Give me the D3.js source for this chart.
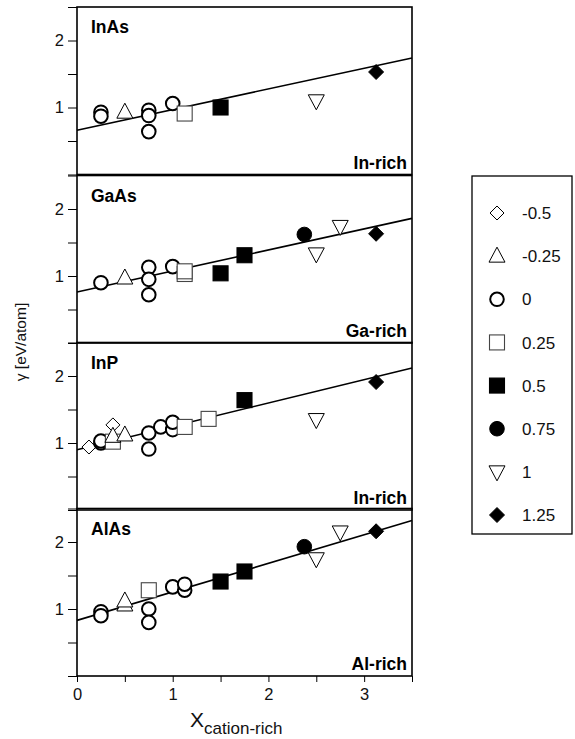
<!DOCTYPE html>
<html>
<head>
<meta charset="utf-8">
<script src="https://cdn.jsdelivr.net/npm/d3@7/dist/d3.min.js"></script>
<style>
  body { margin: 0; background: #fff; }
  svg { font-family: "Liberation Sans", Arial, Helvetica, sans-serif; }
</style>
</head>
<body>
<div id="chart"></div>
<script>
// legend keys (order as in legend) and their labels
var keys = ["-0.5", "-0.25", "0", "0.25", "0.5", "0.75", "1", "1.25"];

// panels, top to bottom
var panelNames = ["InAs", "GaAs", "InP", "AlAs"];
var richLabels = ["In-rich", "Ga-rich", "In-rich", "Al-rich"];

// fitted lines: value at x=0 and x=3.5
var fitLines = [[0.66, 1.74], [0.76, 1.86], [0.90, 2.12], [0.83, 2.32]];

// points: [x, gamma, key]
var inAs = [
  [0.25, 0.93, "0"], [0.25, 0.87, "0"], [0.5, 0.93, "-0.25"],
  [0.75, 0.96, "0"], [0.75, 0.88, "0"], [0.75, 0.64, "0"],
  [1.0, 1.06, "0"], [1.125, 0.91, "0.25"], [1.5, 1.0, "0.5"],
  [2.5, 1.1, "1"], [3.125, 1.53, "1.25"]
];
var gaAs = [
  [0.25, 0.9, "0"], [0.5, 0.97, "-0.25"],
  [0.75, 1.13, "0"], [0.75, 0.95, "0"], [0.75, 0.72, "0"],
  [1.0, 1.14, "0"], [1.125, 1.03, "0.25"], [1.125, 1.07, "0.25"],
  [1.5, 1.04, "0.5"], [1.75, 1.31, "0.5"], [2.375, 1.62, "0.75"],
  [2.5, 1.33, "1"], [2.75, 1.74, "1"], [3.125, 1.63, "1.25"]
];
var inP = [
  [0.125, 0.94, "-0.5"], [0.375, 1.27, "-0.5"],
  [0.25, 1.0, "0"], [0.25, 1.03, "0"], [0.375, 1.02, "0.25"],
  [0.375, 1.1, "-0.25"], [0.5, 1.12, "-0.25"],
  [0.75, 1.15, "0"], [0.75, 0.91, "0"], [0.875, 1.24, "0"],
  [1.0, 1.2, "0"], [1.0, 1.31, "0"], [1.125, 1.24, "0.25"],
  [1.375, 1.36, "0.25"], [1.75, 1.64, "0.5"], [2.5, 1.35, "1"],
  [3.125, 1.91, "1.25"]
];
var alAs = [
  [0.25, 0.96, "0"], [0.25, 0.9, "0"], [0.5, 1.06, "-0.25"], [0.5, 1.12, "-0.25"],
  [0.75, 1.28, "0.25"], [0.75, 1.0, "0"], [0.75, 0.8, "0"],
  [1.0, 1.33, "0"], [1.125, 1.28, "0"], [1.125, 1.37, "0"],
  [1.5, 1.41, "0.5"], [1.75, 1.56, "0.5"], [2.375, 1.93, "0.75"],
  [2.5, 1.75, "1"], [2.75, 2.15, "1"], [3.125, 2.16, "1.25"]
];
var panelData = [inAs, gaAs, inP, alAs];

var xTicks = [0, 1, 2, 3];
var yTicks = [1, 2];

var W = 575, H = 739;
var left = 77, right = 412;
var panelTops = [7, 175.5, 342.5, 508.5];
var panelH = 167.5;

var svg = d3.select("#chart").append("svg")
  .attr("width", W).attr("height", H);

var x = d3.scaleLinear().domain([0, 3.5]).range([left, right]);

// marker drawing
function marker(g, key, cx, cy) {
  var s = 7.5;
  if (key === "0" || key === "0.75") {
    g.append("circle").attr("cx", cx).attr("cy", cy).attr("r", key === "0" ? 6.8 : 7.3)
      .attr("fill", key === "0" ? "#fff" : "#000")
      .attr("stroke", "#000").attr("stroke-width", key === "0" ? 2 : 1);
  } else if (key === "0.25" || key === "0.5") {
    g.append("rect").attr("x", cx - s).attr("y", cy - s).attr("width", 2 * s).attr("height", 2 * s)
      .attr("fill", key === "0.25" ? "#fff" : "#000")
      .attr("stroke", key === "0.25" ? "#444" : "#000").attr("stroke-width", 1.1);
  } else if (key === "-0.5" || key === "1.25") {
    var d = key === "1.25" ? 7.5 : 7;
    g.append("path")
      .attr("d", `M${cx},${cy - d}L${cx + d},${cy}L${cx},${cy + d}L${cx - d},${cy}Z`)
      .attr("fill", key === "1.25" ? "#000" : "#fff")
      .attr("stroke", "#000").attr("stroke-width", 1);
  } else if (key === "-0.25") {
    g.append("path")
      .attr("d", `M${cx},${cy - 9}L${cx + 8},${cy + 6}L${cx - 8},${cy + 6}Z`)
      .attr("fill", "#fff").attr("stroke", "#000").attr("stroke-width", 1);
  } else if (key === "1") {
    g.append("path")
      .attr("d", `M${cx},${cy + 9}L${cx + 8},${cy - 6}L${cx - 8},${cy - 6}Z`)
      .attr("fill", "#fff").attr("stroke", "#000").attr("stroke-width", 1);
  }
}

panelData.forEach(function(pts, i) {
  var top = panelTops[i];
  var y = d3.scaleLinear().domain([0, 2.5]).range([top + panelH, top]);
  var g = svg.append("g");

  // y axis ticks
  var yAxis = d3.axisLeft(y).tickValues([0, 0.5, 1, 1.5, 2, 2.5])
    .tickSize(9).tickFormat(d => yTicks.indexOf(d) >= 0 ? d : "");
  var ya = g.append("g").attr("transform", `translate(${left},0)`).call(yAxis);
  ya.select(".domain").remove();
  ya.selectAll("line").attr("stroke", "#000").attr("stroke-width", 1);
  ya.selectAll("text").attr("font-size", 16.5).attr("fill", "#111").attr("dx", "-1");

  // fit line
  var line = d3.line().x(d => x(d[0])).y(d => y(d[1]));
  g.append("path")
    .datum([[0, fitLines[i][0]], [3.5, fitLines[i][1]]])
    .attr("d", line).attr("stroke", "#000").attr("stroke-width", 1.6).attr("fill", "none");

  // points
  pts.forEach(function(p) { marker(g, p[2], x(p[0]), y(p[1])); });

  // frame
  g.append("rect").attr("x", left).attr("y", top).attr("width", right - left).attr("height", panelH)
    .attr("fill", "none").attr("stroke", "#000").attr("stroke-width", 1.6);

  g.append("text").attr("x", left + 14).attr("y", top + 26)
    .attr("font-size", 17.5).attr("font-weight", "bold").text(panelNames[i]);
  g.append("text").attr("x", right - 5).attr("y", top + panelH - 6)
    .attr("text-anchor", "end")
    .attr("font-size", 17.5).attr("font-weight", "bold").text(richLabels[i]);

  if (i === panelData.length - 1) {
    var xAxis = d3.axisBottom(x).tickValues([0, 0.5, 1, 1.5, 2, 2.5, 3, 3.5])
      .tickSize(6).tickFormat(d => xTicks.indexOf(d) >= 0 ? d : "");
    var xa = g.append("g").attr("transform", `translate(0,${top + panelH})`).call(xAxis);
    xa.select(".domain").remove();
    xa.selectAll("line").attr("stroke", "#000");
    xa.selectAll("text").attr("font-size", 16.5).attr("fill", "#111").attr("dy", "0.9em");
  }
});

// axis labels
var xl = svg.append("text").attr("x", 190).attr("y", 727).attr("font-size", 21).attr("fill", "#111");
xl.append("tspan").text("X");
xl.append("tspan").attr("font-size", 17).attr("dy", 7).text("cation-rich");

svg.append("text")
  .attr("transform", "translate(26,342) rotate(-90)")
  .attr("text-anchor", "middle").attr("font-size", 15.5).attr("fill", "#111")
  .text("γ [eV/atom]");

// legend
var lg = svg.append("g");
lg.append("rect").attr("x", 472).attr("y", 176).attr("width", 100).attr("height", 358)
  .attr("fill", "none").attr("stroke", "#000").attr("stroke-width", 1.3);
var ly = d3.scalePoint().domain(keys).range([213, 515]);
keys.forEach(function(k) {
  marker(lg, k, 497, ly(k));
  lg.append("text").attr("x", 522).attr("y", ly(k)).attr("dy", "0.36em")
    .attr("font-size", 17).attr("fill", "#111").text(k);
});
</script>
</body>
</html>
